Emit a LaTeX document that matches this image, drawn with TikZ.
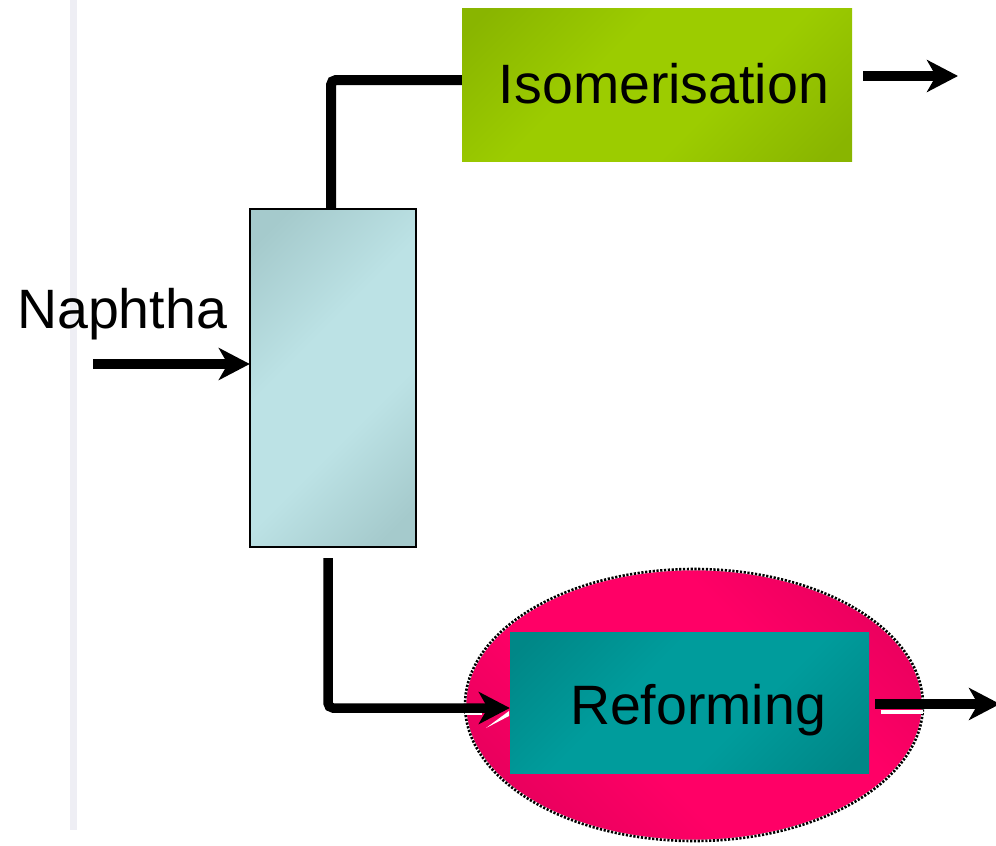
\documentclass[tikz,border=0pt]{standalone}
\usepackage{fontspec}
\setmainfont{Liberation Sans}
\usetikzlibrary{arrows.meta,shapes.geometric,calc}

\definecolor{isoDark}{HTML}{89B500}
\definecolor{isoLight}{HTML}{9CCC00}
\definecolor{colDark}{HTML}{A5CACC}
\definecolor{colLight}{HTML}{BCE2E5}
\definecolor{refDark}{HTML}{008787}
\definecolor{refLight}{HTML}{009C9C}
\definecolor{ovalLight}{HTML}{FF0066}
\definecolor{ovalDark}{HTML}{E6005C}
\definecolor{railGray}{HTML}{EEEEF4}

% soft diagonal fills: darker ends, wide bright middle
\pgfdeclarehorizontalshading{isoshade}{100bp}{color(0bp)=(isoDark); color(18bp)=(isoDark);
  color(40bp)=(isoLight); color(60bp)=(isoLight); color(82bp)=(isoDark); color(100bp)=(isoDark)}
\pgfdeclarehorizontalshading{colshade}{100bp}{color(0bp)=(colDark); color(20bp)=(colDark);
  color(42bp)=(colLight); color(60bp)=(colLight); color(80bp)=(colDark); color(100bp)=(colDark)}
\pgfdeclarehorizontalshading{refshade}{100bp}{color(0bp)=(refDark); color(18bp)=(refDark);
  color(40bp)=(refLight); color(60bp)=(refLight); color(82bp)=(refDark); color(100bp)=(refDark)}
\pgfdeclarehorizontalshading{ovalshade}{100bp}{color(0bp)=(ovalDark); color(22bp)=(ovalDark);
  color(40bp)=(ovalLight); color(62bp)=(ovalLight); color(80bp)=(ovalDark); color(100bp)=(ovalDark)}

\tikzset{
  big/.style={font=\fontsize{55.5}{60}\selectfont, inner sep=0pt, anchor=base},
  pipe/.style={line width=9.5pt, black},
  flow/.style={pipe, -{Stealth[length=31pt, width=32pt, inset=9pt]}},
  unitbox/.style={rectangle, inner sep=0pt, draw=none},
}

\begin{document}
\begin{tikzpicture}[x=1pt, y=-1pt]
\useasboundingbox (0,0) rectangle (996,846);

% left margin rule
\fill[railGray] (70,0) rectangle (77,830);

% reformer surround
\node[ellipse, minimum width=458pt, minimum height=272pt, inner sep=0pt,
      shading=ovalshade, shading angle=45,
      draw=white, line width=2.6pt] (oval) at (694,705) {};
\draw[black, line width=2.6pt, dash pattern=on 2.2pt off 1.6pt]
  (oval.center) ellipse [x radius=229pt, y radius=136pt];

% process units
\node[unitbox, minimum width=390pt, minimum height=153pt,
      shading=isoshade, shading angle=-45] (iso) at (657,84.5) {};
\node[big] (isotext) at (664,103) {Isomerisation};

\node[unitbox, minimum width=166pt, minimum height=338pt,
      shading=colshade, shading angle=-45] (col) at (333,378) {};
\draw[black, line width=2pt] (col.north west) rectangle (col.south east);

\node[unitbox, minimum width=359pt, minimum height=141pt,
      shading=refshade, shading angle=-45] (ref) at (689.5,702.5) {};
\node[big] (reftext) at (698,724) {Reforming};

\node[big] (naphtha) at (122,328) {Naphtha};

% stream coordinates
\coordinate (feed) at (93,364);
\coordinate (topbend) at (331,80);
\coordinate (botstart) at (328,558);
\coordinate (botbend) at (328,708);
\coordinate (isoout) at (863,76);
\coordinate (isoend) at (958,76);
\coordinate (refout) at (875,704);
\coordinate (refend) at (1000,704);

% feed into the column
\draw[flow] (feed) -- (feed -| col.west);

% overhead to isomerisation
\draw[pipe, line width=10pt, rounded corners=5pt]
  (col.north -| topbend) |- (iso.west |- topbend);

% bottoms to reforming
\fill[white] (465,712) rectangle (482,715);
\draw[flow, rounded corners=5pt] (botstart) |- (ref.west |- botbend);
\fill[white] (486,728) -- (509,711) -- (509,716) -- cycle;

% products
\draw[flow] (isoout) -- (isoend);
\fill[white] (881,709.5) rectangle (923,714);
\draw[flow] (refout) -- (refend);
\end{tikzpicture}
\end{document}
